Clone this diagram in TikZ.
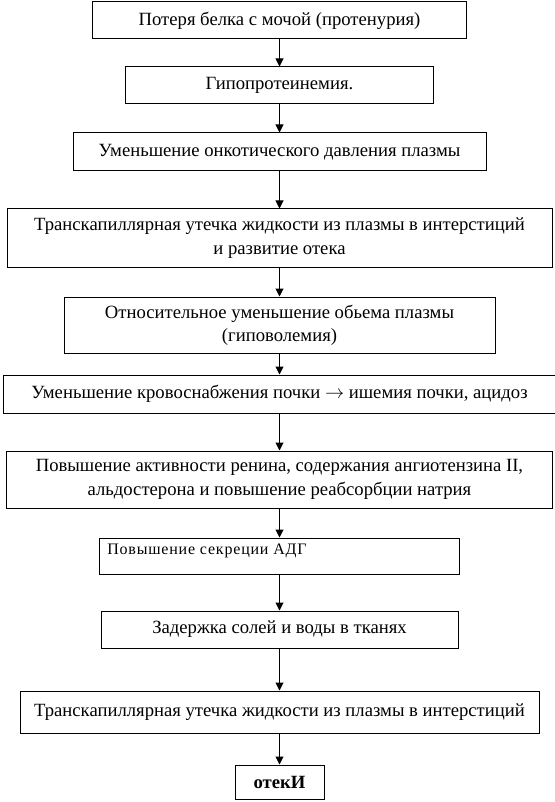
\documentclass[tikz,border=0pt]{standalone}
\usepackage{fontspec}
\setmainfont{Liberation Serif}
\usetikzlibrary{arrows.meta}
\begin{document}
\begin{tikzpicture}[x=0.75pt,y=-0.75pt,
  box/.style 2 args={draw=black, line width=0.75pt, fill=white, minimum width=#1*0.75pt, minimum height=#2*0.75pt, inner sep=0pt, align=center, font=\fontsize{14pt}{17.5pt}\selectfont},
  arr/.style={line width=0.75pt, -{Triangle[length=6pt,width=6pt]}}]
\useasboundingbox (0,0) rectangle (555,802);
\node[box={374}{37}] (b1) at (279.5,20.5) {Потеря белка с мочой (протенурия)};
\node[box={308}{37}] (b2) at (279.5,85.5) {Гипопротеинемия.};
\node[box={413}{38}] (b3) at (279.5,152) {Уменьшение онкотического давления плазмы};
\node[box={545}{58}] (b4) at (279.5,238) {Транскапиллярная утечка жидкости из плазмы в интерстиций\\и развитие отека};
\node[box={431}{56}] (b5) at (279.5,325) {Относительное уменьшение обьема плазмы\\(гиповолемия)};
\node[box={552}{38}] (b6) at (279.5,394) {Уменьшение кровоснабжения почки $\rightarrow$ ишемия почки, ацидоз};
\node[box={546}{57}] (b7) at (279.5,479.5) {Повышение активности ренина, содержания ангиотензина II,\\альдостерона и повышение реабсорбции натрия};
\node[box={360}{36}] (b8) at (279.5,556) {};
\node[anchor=north west, inner sep=0pt, font=\fontsize{12pt}{14pt}\selectfont\addfontfeature{LetterSpace=5}] (t8) at (107,544) {Повышение секреции АДГ};
\node[box={357}{37}] (b9) at (279.5,629.5) {Задержка солей и воды в тканях};
\node[box={519}{42}] (b10) at (279.5,712) {Транскапиллярная утечка жидкости из плазмы в интерстиций};
\node[box={89}{34}, font=\fontsize{14pt}{17.5pt}\selectfont\bfseries] (b11) at (279.5,782) {отекИ};
\draw[arr] (b1) -- (b2);
\draw[arr] (b2) -- (b3);
\draw[arr] (b3) -- (b4);
\draw[arr] (b4) -- (b5);
\draw[arr] (b5) -- (b6);
\draw[arr] (b6) -- (b7);
\draw[arr] (b7) -- (b8);
\draw[arr] (b8) -- (b9);
\draw[arr] (b9) -- (b10);
\draw[arr] (b10) -- (b11);
\end{tikzpicture}
\end{document}
